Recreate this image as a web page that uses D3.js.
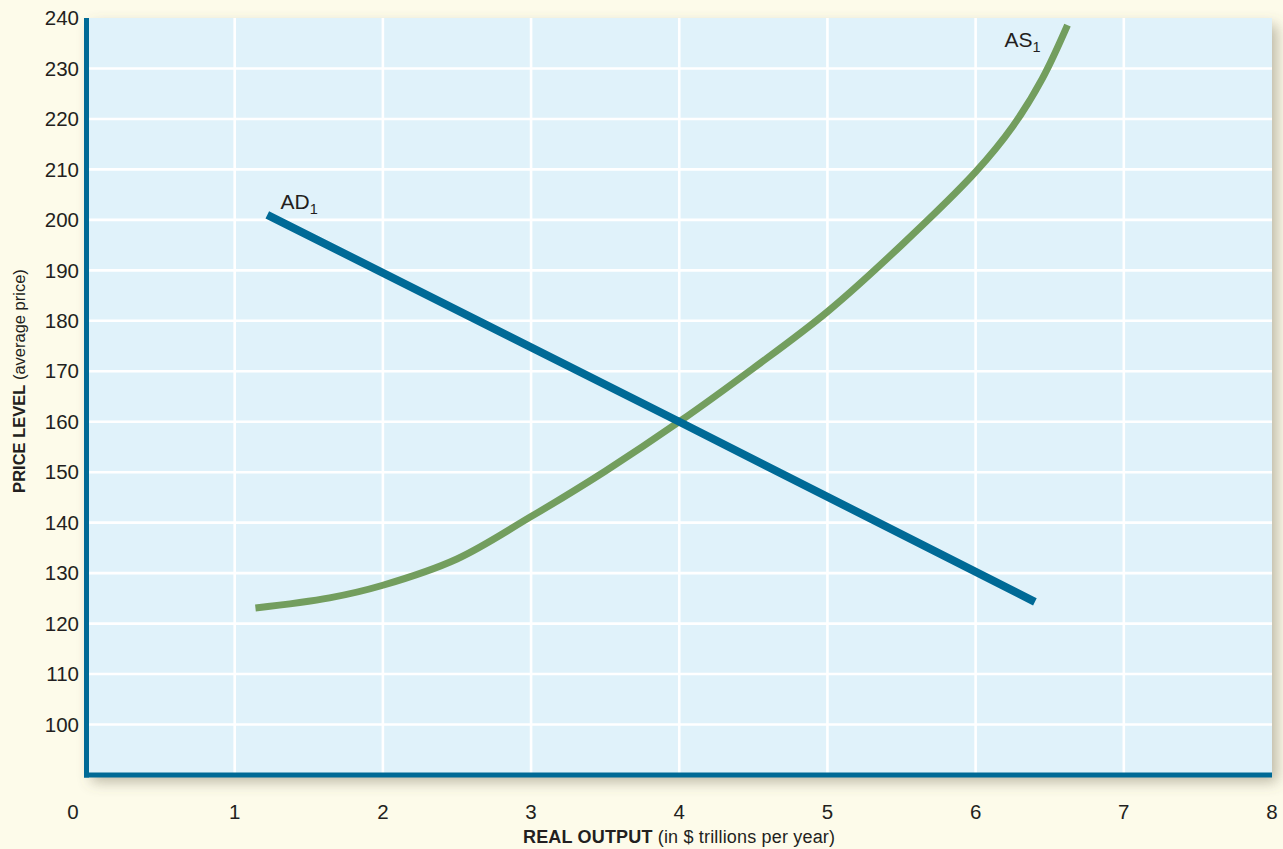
<!DOCTYPE html>
<html>
<head>
<meta charset="utf-8">
<script src="https://cdn.jsdelivr.net/npm/d3@7"></script>
<style>
  html, body { margin: 0; padding: 0; background: #fdfbea; }
  svg { display: block; font-family: "Liberation Sans", Arial, Helvetica, sans-serif; }
</style>
</head>
<body>
<svg id="chart" width="1283" height="849"></svg>
<script>
// Aggregate demand (straight line) and aggregate supply (curve)
const adCurve = [[1.22, 201], [4.0, 160], [6.4, 124.3]];
const asCurve = [
  [1.14, 123.1], [1.64, 125.1], [2.0, 127.6], [2.5, 132.8], [3.0, 141.2],
  [3.5, 150.2], [4.0, 160], [4.5, 170.6], [5.0, 181.8], [5.5, 195],
  [6.0, 209.5], [6.25, 218.5], [6.45, 228], [6.62, 238.6]
];
const xTicks = [0, 1, 2, 3, 4, 5, 6, 7, 8];
const yTicks = [100, 110, 120, 130, 140, 150, 160, 170, 180, 190, 200, 210, 220, 230, 240];
const xDomain = [0, 8];
const yDomain = [90, 240];

const svg = d3.select("#chart");
const pLeft = 86.5, pRight = 1272, pTop = 18, pBottom = 775;

const x = d3.scaleLinear().domain(xDomain).range([pLeft, pRight]);
const y = d3.scaleLinear().domain(yDomain).range([pBottom, pTop]);

const AXIS_BLUE = "#006a96";
const AS_GREEN = "#739e5e";
const INK = "#231f20";

// drop shadow for the plot panel
const defs = svg.append("defs");
const f = defs.append("filter").attr("id", "shadow")
  .attr("x", "-5%").attr("y", "-5%").attr("width", "112%").attr("height", "115%");
f.append("feDropShadow").attr("dx", 5).attr("dy", 7).attr("stdDeviation", 7)
  .attr("flood-color", "#6b6650").attr("flood-opacity", 0.45);

defs.append("clipPath").attr("id", "plotClip").append("rect")
  .attr("x", pLeft).attr("y", pTop).attr("width", pRight - pLeft).attr("height", pBottom - pTop);

svg.append("rect")
  .attr("x", pLeft).attr("y", pTop)
  .attr("width", pRight - pLeft).attr("height", pBottom - pTop)
  .attr("fill", "#e0f2fa")
  .attr("filter", "url(#shadow)");

// grid
const grid = svg.append("g").attr("stroke", "#ffffff").attr("stroke-width", 2.6);
grid.selectAll("line.v").data(xTicks.filter(d => d > 0 && d < 8)).enter().append("line")
  .attr("x1", d => x(d)).attr("x2", d => x(d))
  .attr("y1", pTop).attr("y2", pBottom);
grid.selectAll("line.h").data(yTicks.filter(d => d < 240)).enter().append("line")
  .attr("x1", pLeft).attr("x2", pRight)
  .attr("y1", d => y(d)).attr("y2", d => y(d));

// axes lines
svg.append("line").attr("x1", pLeft).attr("x2", pLeft).attr("y1", pTop).attr("y2", pBottom + 2.5)
  .attr("stroke", AXIS_BLUE).attr("stroke-width", 5);
svg.append("line").attr("x1", pLeft - 2.5).attr("x2", pRight).attr("y1", pBottom).attr("y2", pBottom)
  .attr("stroke", AXIS_BLUE).attr("stroke-width", 5);

// tick labels
svg.append("g").selectAll("text").data(xTicks).enter().append("text")
  .attr("x", d => d === 0 ? x(d) - 13.5 : x(d))
  .attr("y", 819)
  .attr("text-anchor", "middle")
  .attr("font-size", 20.5)
  .attr("fill", INK)
  .text(d => d);

svg.append("g").selectAll("text").data(yTicks).enter().append("text")
  .attr("x", 79)
  .attr("y", d => y(d) + 7.2)
  .attr("text-anchor", "end")
  .attr("font-size", 20.5)
  .attr("fill", INK)
  .text(d => d);

// axis titles
const xt = svg.append("text").attr("x", 679).attr("y", 843).attr("text-anchor", "middle")
  .attr("font-size", 18).attr("fill", INK)
  .attr("textLength", 312).attr("lengthAdjust", "spacing");
xt.append("tspan").attr("font-weight", "bold").text("REAL OUTPUT");
xt.append("tspan").text(" (in $ trillions per year)");

const yt = svg.append("text").attr("transform", "translate(24.5,381) rotate(-90)")
  .attr("text-anchor", "middle").attr("font-size", 16.5).attr("fill", INK);
yt.append("tspan").attr("font-weight", "bold").text("PRICE LEVEL");
yt.append("tspan").text(" (average price)");

// curves
const plot = svg.append("g").attr("clip-path", "url(#plotClip)");
const lineStraight = d3.line().x(d => x(d[0])).y(d => y(d[1]));
const lineSmooth = d3.line().x(d => x(d[0])).y(d => y(d[1])).curve(d3.curveCatmullRom.alpha(0.5));

plot.append("path").datum(asCurve)
  .attr("d", lineSmooth)
  .attr("fill", "none").attr("stroke", AS_GREEN).attr("stroke-width", 7);

plot.append("path").datum(adCurve)
  .attr("d", lineStraight)
  .attr("fill", "none").attr("stroke", AXIS_BLUE).attr("stroke-width", 8);

// curve labels
function subLabel(px, py, main, sub) {
  const t = svg.append("text").attr("x", px).attr("y", py)
    .attr("font-size", 21).attr("fill", INK);
  t.append("tspan").text(main);
  t.append("tspan").attr("font-size", 14.5).attr("dy", 5).text(sub);
}
subLabel(280.5, 208.5, "AD", "1");
subLabel(1004.5, 46.5, "AS", "1");
</script>
</body>
</html>
